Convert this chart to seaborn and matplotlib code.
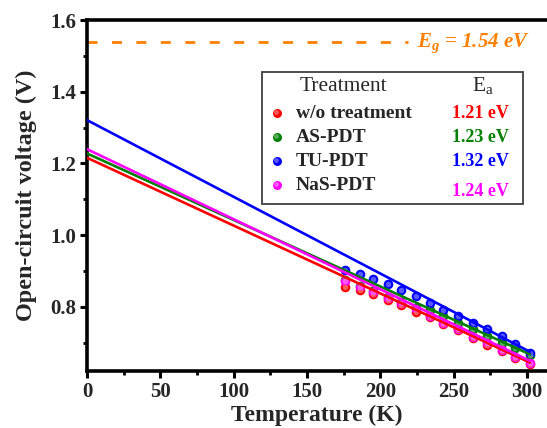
import numpy as np
import pandas as pd
import matplotlib
matplotlib.use("Agg")
import matplotlib.pyplot as plt
import seaborn as sns
from matplotlib.patches import Rectangle
from matplotlib.colors import to_rgb

# ---------------- data ----------------
temperature = [176, 186, 195, 205, 214, 224, 234, 243, 253, 263, 273, 283, 292, 302]
voc_wo  = [0.857, 0.847, 0.835, 0.820, 0.806, 0.787, 0.771, 0.752, 0.735, 0.714, 0.695, 0.676, 0.657, 0.640]
voc_as  = [0.874, 0.859, 0.845, 0.829, 0.813, 0.798, 0.792, 0.775, 0.756, 0.738, 0.719, 0.699, 0.685, 0.666]
voc_tu  = [0.903, 0.892, 0.878, 0.863, 0.848, 0.830, 0.811, 0.792, 0.775, 0.756, 0.738, 0.719, 0.697, 0.673]
voc_nas = [0.872, 0.857, 0.843, 0.826, 0.810, 0.794, 0.775, 0.755, 0.738, 0.717, 0.699, 0.680, 0.661, 0.645]

fit_T = [0, 302]
fit_wo  = [1.216, 0.645]
fit_as  = [1.228, 0.668]
fit_tu  = [1.321, 0.675]
fit_nas = [1.240, 0.650]

treatments = ["w/o treatment", "AS-PDT", "TU-PDT", "NaS-PDT"]
ea_labels = ["1.21 eV", "1.23 eV", "1.32 eV", "1.24 eV"]
eg_value = 1.54
eg_label = "1.54 eV"
colors = ["#ff0000", "#008000", "#0000ff", "#ff00ff"]
eg_color = "#ff8000"

series_pts = [voc_wo, voc_as, voc_tu, voc_nas]
series_fit = [fit_wo, fit_as, fit_tu, fit_nas]

# ---------------- style ----------------
sns.set_theme(style="ticks")
plt.rcParams["font.family"] = ["Liberation Serif", "DejaVu Serif"]
plt.rcParams["mathtext.fontset"] = "custom"
plt.rcParams["mathtext.rm"] = "Liberation Serif"
plt.rcParams["mathtext.it"] = "Liberation Serif:italic"
plt.rcParams["mathtext.bf"] = "Liberation Serif:bold"

W, H = 547, 428
fig = plt.figure(figsize=(W / 100, H / 100), dpi=100)
ax = fig.add_axes([87 / W, 1 - 371 / H, (547 - 87) / W, (371 - 20) / H])

def lighten(c, f):
    r, g, b = to_rgb(c)
    return (r + (1 - r) * f, g + (1 - g) * f, b + (1 - b) * f)

# points (3D-ball look)
for name, vals, c in zip(treatments, series_pts, colors):
    df = pd.DataFrame({"T": temperature, "V": vals})
    sns.scatterplot(data=df, x="T", y="V", ax=ax, color=c, s=48, linewidth=0, zorder=3)
    sns.scatterplot(data=df, x="T", y="V", ax=ax, color=lighten(c, 0.35), s=16, linewidth=0, zorder=3.1)

# fitted lines
for name, vals, c in zip(treatments, series_fit, colors):
    df = pd.DataFrame({"T": fit_T, "V": vals})
    sns.lineplot(data=df, x="T", y="V", ax=ax, color=c, linewidth=1.9, zorder=4)

# Eg dashed line
df_eg = pd.DataFrame({"T": [0, 219], "V": [eg_value, eg_value]})
sns.lineplot(data=df_eg, x="T", y="V", ax=ax, color=eg_color, linewidth=2.0,
             dashes=False, zorder=2).lines[-1].set_dashes([3.6, 5.2])

ax.set_xlim(0, 313.6)
ax.set_ylim(0.6216, 1.6)
ax.set_xticks([0, 50, 100, 150, 200, 250, 300])
ax.set_xticks(np.arange(25, 313, 50), minor=True)
ax.set_yticks([0.8, 1.0, 1.2, 1.4, 1.6])
ax.set_yticks([0.7, 0.9, 1.1, 1.3, 1.5], minor=True)
ax.set_yticklabels(["0.8", "1.0", "1.2", "1.4", "1.6"])
ax.tick_params(axis="both", which="major", direction="out", length=5, width=2.2,
               labelsize=15, color="black", pad=3)
ax.tick_params(axis="both", which="minor", direction="out", length=3, width=2.0, color="black")
ax.tick_params(top=False, right=False, which="both")
for lab in ax.get_xticklabels() + ax.get_yticklabels():
    lab.set_fontweight("bold")
for sp in ["left", "bottom", "top"]:
    ax.spines[sp].set_linewidth(2.6)
    ax.spines[sp].set_color("black")
ax.spines["right"].set_visible(False)
ax.set_xlabel("Temperature (K)", fontsize=17, fontweight="bold", labelpad=2)
ax.set_ylabel("Open-circuit voltage (V)", fontsize=17.5, fontweight="bold", labelpad=9)

# overlay in pixel coordinates for legend and annotation
ov = fig.add_axes([0, 0, 1, 1], zorder=10)
ov.set_xlim(0, W)
ov.set_ylim(H, 0)
ov.axis("off")
ov.patch.set_alpha(0)

ov.text(417, 43, r"$\mathregular{E_g}$ = " + eg_label, color=eg_color, fontsize=15,
        fontweight="bold", fontstyle="italic", ha="left", va="center")

ov.add_patch(Rectangle((262, 72), 261, 132, facecolor="white", edgecolor="#404040",
                       linewidth=1.3))
ov.text(343, 86, "Treatment", fontsize=15.5, ha="center", va="center")
ov.text(483, 85, r"E$_\mathregular{a}$", fontsize=15.5, ha="center", va="center")
rows_y = [113, 137, 161, 185]
ea_y = [113, 137, 161, 191]
for i in range(4):
    ov.scatter([277], [rows_y[i]], s=42, color=colors[i], linewidth=0, zorder=11)
    ov.scatter([276], [rows_y[i] - 1.3], s=12, color=lighten(colors[i], 0.35), linewidth=0, zorder=12)
    ov.text(296, rows_y[i], treatments[i], fontsize=14, fontweight="bold",
            ha="left", va="center")
    ov.text(480, ea_y[i], ea_labels[i], fontsize=13, fontweight="bold",
            color=colors[i], ha="center", va="center")

fig.savefig("out.png", dpi=100)
